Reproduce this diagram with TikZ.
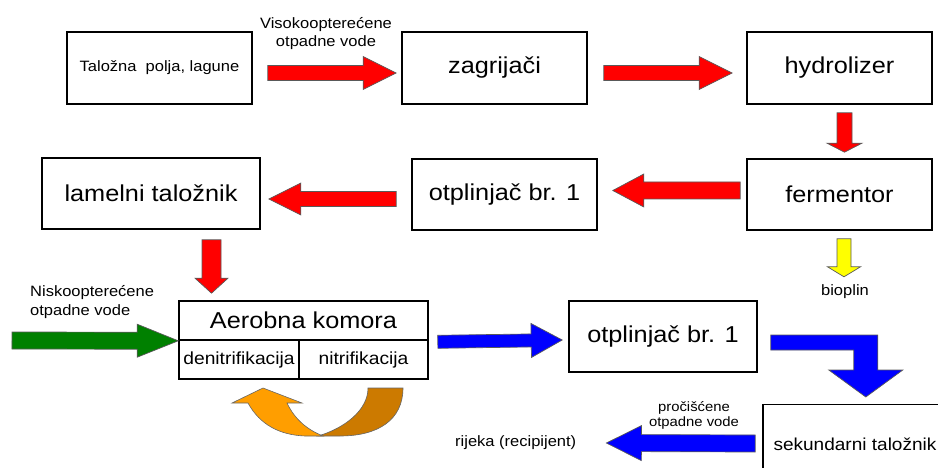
\documentclass[tikz,border=0pt]{standalone}
\usepackage{fontspec}
\setmainfont{Liberation Sans}[FakeStretch=1.1]
\usetikzlibrary{calc,positioning}
\definecolor{arrred}{RGB}{255,0,0}
\definecolor{arrgreen}{RGB}{0,128,0}
\definecolor{arrblue}{RGB}{0,0,255}
\definecolor{arryellow}{RGB}{255,255,0}
\definecolor{orlight}{RGB}{255,158,0}
\definecolor{ordark}{RGB}{204,122,0}

% block arrow: colour, tail, tip, half shaft, half head, head length
\newcommand{\flowarr}[6]{%
  \coordinate (hb) at ($(#3)!#6pt!(#2)$);
  \filldraw[fill=#1, draw=black!65, line width=0.7pt]
    ($(#2)!#4pt!90:(#3)$) -- ($(hb)!#4pt!90:(#3)$) -- ($(hb)!#5pt!90:(#3)$) -- (#3)
    -- ($(hb)!#5pt!-90:(#3)$) -- ($(hb)!#4pt!-90:(#3)$) -- ($(#2)!#4pt!-90:(#3)$) -- cycle;}

\begin{document}
\begin{tikzpicture}[x=1pt,y=-1pt,
  box/.style={draw=black, line width=1.6pt, fill=white, inner sep=0pt,
    minimum width=185pt, minimum height=72pt, font=\fontsize{23}{27}\selectfont},
  lbl/.style={inner sep=0pt, align=center, font=\fontsize{15}{18}\selectfont},
  cell/.style={box, minimum height=39pt, font=\fontsize{17.5}{20}\selectfont}]
  \path[use as bounding box, clip] (0,0) rectangle (938,468);

  % process boxes
  \node[box, font=\fontsize{15}{18}\selectfont] (taloz) at (159.5,68) {Taložna~ polja, lagune};
  \node[box] (zagr) at (494.5,68) {zagrijači};
  \node[box] (hydro) at (839.5,68) {hydrolizer};
  \node[box, minimum height=71pt] (ferm) at (839.5,194.5) {fermentor};
  \node[box, minimum height=71pt] (otpl) at (504.5,194.5) {otplinjač br. 1};
  \node[box, minimum width=218pt, minimum height=71pt] (lamel) at (151,193.5) {lamelni taložnik};
  \node[box, minimum width=249pt, minimum height=39pt] (aero) at (303.5,320.5) {Aerobna komora};
  \node[cell, minimum width=120pt] (deni) at (239,359.5) {denitrifikacija};
  \node[cell, minimum width=129pt] (nitri) at (363.5,359.5) {nitrifikacija};
  \node[box, minimum width=188pt, minimum height=71pt] (otpldva) at (663,336.5) {otplinjač br. 1};
  \node[box, minimum width=184pt, minimum height=80pt, font=\fontsize{17.3}{21}\selectfont] (sek) at (855,444.5) {sekundarni taložnik};

  % labels
  \node[lbl] (visok) at (326,34) {Visokoopterećene\\otpadne vode};
  \node[lbl, align=left, anchor=west, font=\fontsize{15}{19}\selectfont] (nisko) at (30,302.5) {Niskoopterećene\\otpadne vode};
  \node[lbl] (bio) at (845,292) {bioplin};
  \node[lbl, font=\fontsize{13.5}{15}\selectfont] (proc) at (694,415.5) {pročišćene\\otpadne vode};
  \node[lbl, anchor=west] (rij) at (455,443) {rijeka (recipijent)};

  % arrow ends
  \coordinate (a1t) at ($(taloz.east)+(15,5)$);  \coordinate (a1h) at ($(zagr.west)+(-5,5)$);
  \coordinate (a2t) at ($(zagr.east)+(16,5)$);   \coordinate (a2h) at ($(hydro.west)+(-14,5)$);
  \coordinate (a3t) at ($(hydro.south)+(5,8)$);  \coordinate (a3h) at ($(ferm.north)+(5,-6)$);
  \coordinate (a4t) at ($(ferm.west)+(-6,-4)$);  \coordinate (a4h) at ($(otpl.east)+(15,-4)$);
  \coordinate (a5t) at ($(otpl.west)+(-15,4.5)$); \coordinate (a5h) at ($(lamel.east)+(8,5.5)$);
  \coordinate (a6t) at ($(lamel.south)+(60.5,10)$); \coordinate (a6h) at ($(aero.north)+(-92,-7)$);
  \coordinate (yt) at ($(ferm.south)+(4.5,8)$);  \coordinate (yh) at ($(bio.north)+(-1,-8)$);
  \coordinate (gt) at (12,340.5);                \coordinate (gh) at (aero.south west);
  \coordinate (b1t) at ($(aero.south east)+(9,1)$); \coordinate (b1h) at ($(otpldva.west)+(-6,3.5)$);
  \coordinate (b2t) at ($(sek.west)+(-7,-1)$);   \coordinate (b2h) at ($(rij.east)+(30,0)$);
  \coordinate (lt) at ($(otpldva.east)+(13,6)$);

  % sludge line
  \flowarr{arrred}{a1t}{a1h}{7.5}{16.5}{33}
  \flowarr{arrred}{a2t}{a2h}{7.5}{16.5}{33}
  \flowarr{arrred}{a3t}{a3h}{7.5}{17.5}{9}
  \flowarr{arrred}{a4t}{a4h}{8.5}{16.5}{31}
  \flowarr{arrred}{a5t}{a5h}{7.5}{16}{32}
  \flowarr{arrred}{a6t}{a6h}{9.5}{16.5}{15}
  \flowarr{arryellow}{yt}{yh}{7}{16.5}{10}
  % water line
  \flowarr{arrgreen}{gt}{gh}{8.5}{16.5}{41}
  \flowarr{arrblue}{b1t}{b1h}{6.5}{17}{31}
  \flowarr{arrblue}{b2t}{b2h}{8.5}{17.5}{35}
  \filldraw[fill=arrblue, draw=black!65, line width=0.7pt]
    ($(lt)+(0,-7.5)$) -- ++(107,0) -- ++(0,35) -- ++(25,0) -- ++(-37,27)
    -- ++(-37,-27) -- ++(25,0) -- ++(0,-20) -- ++(-83,0) -- cycle;

  % recirculation
  \filldraw[fill=ordark, draw=black!60, line width=0.6pt]
    (368,388) -- (403,388) .. controls (403,420) and (378,436) .. (340,436)
    -- (318,436) .. controls (345,428) and (368,410) .. (368,388) -- cycle;
  \filldraw[fill=orlight, draw=black!60, line width=0.6pt]
    (232,403) -- (263,388) -- (302,403) -- (287,403)
    .. controls (295,420) and (308,430) .. (323,436) -- (305,436)
    .. controls (280,435) and (260,425) .. (248,403) -- cycle;
\end{tikzpicture}
\end{document}
